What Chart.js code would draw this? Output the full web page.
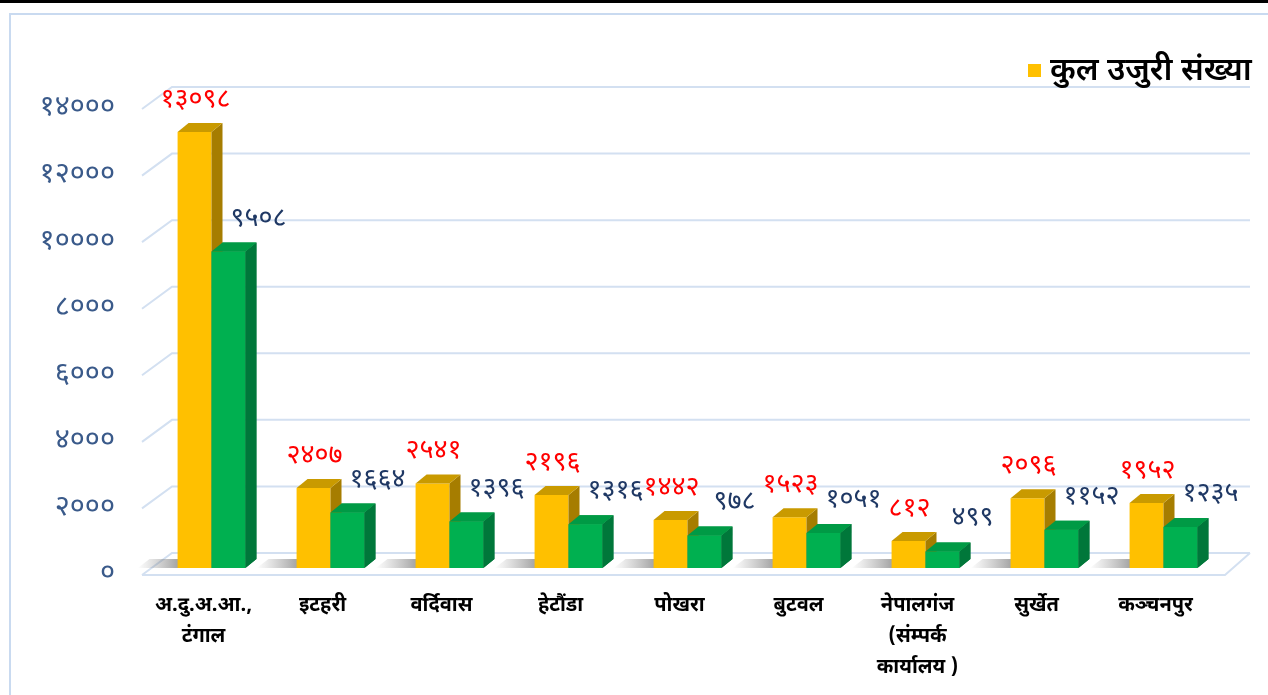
<!DOCTYPE html>
<html>
<head>
<meta charset="utf-8">
<script src="https://cdn.jsdelivr.net/npm/chart.js@4.4.1/dist/chart.umd.min.js"></script>
<style>
  html, body { margin: 0; padding: 0; background: #fff; }
  #wrap { width: 1268px; height: 695px; position: relative; }
</style>
</head>
<body>
<div id="wrap"><canvas id="chart" width="1268" height="695"></canvas></div>
<script>
// === data ===
const offices = [
  ['अ.दु.अ.आ.,', 'टंगाल'],
  'इटहरी',
  'वर्दिवास',
  'हेटौंडा',
  'पोखरा',
  'बुटवल',
  ['नेपालगंज', '(संम्पर्क', 'कार्यालय )'],
  'सुर्खेत',
  'कञ्चनपुर'
];
const totalComplaints = [13098, 2407, 2541, 2196, 1442, 1523, 812, 2096, 1952];
const secondSeries = [9508, 1664, 1396, 1316, 978, 1051, 499, 1152, 1235];
const yTicks = [0, 2000, 4000, 6000, 8000, 10000, 12000, 14000];
const legendLabel = 'कुल उजुरी संख्या';

// helpers
const devaDigits = '०१२३४५६७८९';
const toDeva = (n) => String(n).replace(/\d/g, d => devaDigits[d]);
const DEVA_FONT = "'Noto Sans Devanagari', 'Noto Serif Devanagari', 'Lohit Devanagari', 'Noto Sans', sans-serif";

const DX = 11, DY = 9; // bar depth

const shade = {
  yellow: { front: '#FFC000', side: '#A67D00', top: '#C99A00' },
  green:  { front: '#00B050', side: '#00773A', top: '#009A45' }
};

const drawFaces = (ctx, bar, c) => {
  const x0 = bar.x - bar.width / 2, x1 = bar.x + bar.width / 2;
  const yt = bar.y, yb = bar.base;
  ctx.fillStyle = c.side;
  ctx.beginPath();
  ctx.moveTo(x1, yt);
  ctx.lineTo(x1 + DX, yt - DY);
  ctx.lineTo(x1 + DX, yb - DY);
  ctx.lineTo(x1, yb);
  ctx.closePath();
  ctx.fill();
  ctx.fillStyle = c.top;
  ctx.beginPath();
  ctx.moveTo(x0, yt);
  ctx.lineTo(x1, yt);
  ctx.lineTo(x1 + DX, yt - DY);
  ctx.lineTo(x0 + DX, yt - DY);
  ctx.closePath();
  ctx.fill();
};

// ==============================
// 3D plugin
// ==============================
const threeD = {
  id: 'threeD',
  beforeDraw(chart) {
    const { ctx, chartArea } = chart;
    const y = chart.scales.y;
    ctx.save();
    // outer frame
    ctx.fillStyle = '#000';
    ctx.fillRect(0, 0, 1268, 3);
    ctx.strokeStyle = '#C9DAF0';
    ctx.lineWidth = 2;
    ctx.beginPath();
    ctx.moveTo(10, 695);
    ctx.lineTo(10, 14);
    ctx.lineTo(1268, 14);
    ctx.stroke();

    // back wall gridlines + diagonals
    ctx.strokeStyle = '#D3E0F1';
    ctx.lineWidth = 2;
    yTicks.forEach(v => {
      const py = y.getPixelForValue(v);
      ctx.beginPath();
      ctx.moveTo(chartArea.left - 10, py + 7);
      ctx.lineTo(chartArea.left + 20, py - 15);
      ctx.lineTo(1250, py - 15);
      ctx.stroke();
    });
    // floor front edge
    const p0 = y.getPixelForValue(0);
    ctx.beginPath();
    ctx.moveTo(chartArea.left - 10, p0 + 7);
    ctx.lineTo(1225, p0 + 7);
    ctx.lineTo(1250, p0 - 15);
    ctx.stroke();

    // soft shadows on the floor
    chart.getDatasetMeta(0).data.forEach(bar => {
      const x0 = bar.x - bar.width / 2;
      const g = ctx.createLinearGradient(x0 - 40, 0, x0 + 5, 0);
      g.addColorStop(0, 'rgba(130,130,130,0)');
      g.addColorStop(1, 'rgba(110,110,110,0.7)');
      ctx.fillStyle = g;
      ctx.beginPath();
      ctx.moveTo(x0 - 40, p0);
      ctx.lineTo(x0 + 5, p0);
      ctx.lineTo(x0 + 12, p0 - 9);
      ctx.lineTo(x0 - 28, p0 - 9);
      ctx.closePath();
      ctx.fill();
    });
    ctx.restore();
  },
  afterDatasetDraw(chart, args) {
    const { ctx } = chart;
    ctx.save();
    if (args.index === 1) {
      // green drawn first: add its faces
      args.meta.data.forEach(bar => drawFaces(ctx, bar, shade.green));
    } else {
      // yellow drawn last: add its faces, then bring green back on top
      args.meta.data.forEach(bar => drawFaces(ctx, bar, shade.yellow));
      chart.getDatasetMeta(1).data.forEach(bar => {
        bar.draw(ctx, chart.chartArea);
        drawFaces(ctx, bar, shade.green);
      });
    }
    ctx.restore();
  },
  afterDatasetsDraw(chart) {
    const { ctx } = chart;
    ctx.save();
    ctx.font = `27px ${DEVA_FONT}`;
    ctx.textAlign = 'center';
    ctx.textBaseline = 'middle';
    chart.getDatasetMeta(0).data.forEach((bar, i) => {
      ctx.fillStyle = '#FF0000';
      ctx.fillText(toDeva(totalComplaints[i]), bar.x + 1, bar.y - 30);
    });
    chart.getDatasetMeta(1).data.forEach((bar, i) => {
      ctx.fillStyle = '#1F3864';
      ctx.fillText(toDeva(secondSeries[i]), bar.x + 30, bar.y - 31);
    });

    // legend
    ctx.fillStyle = shade.yellow.front;
    ctx.fillRect(1028, 64, 13, 13);
    ctx.fillStyle = '#000';
    ctx.textAlign = 'left';
    ctx.font = `600 32px ${DEVA_FONT}`;
    ctx.fillText(legendLabel, 1050, 74);
    ctx.restore();
  }
};

new Chart(document.getElementById('chart'), {
  type: 'bar',
  data: {
    labels: offices,
    datasets: [
      { label: legendLabel, data: totalComplaints, backgroundColor: shade.yellow.front },
      { label: '', data: secondSeries, backgroundColor: shade.green.front }
    ]
  },
  options: {
    responsive: false,
    animation: false,
    layout: { padding: { top: 102, right: 45, bottom: 0, left: 0 } },
    datasets: { bar: { categoryPercentage: 0.57, barPercentage: 1.0, borderWidth: 0 } },
    plugins: { legend: { display: false }, tooltip: { enabled: false } },
    scales: {
      x: {
        grid: { display: false, drawTicks: false },
        border: { display: false },
        ticks: {
          color: '#000',
          font: { family: DEVA_FONT, size: 20, weight: 'bold', lineHeight: 1.55 },
          padding: 24,
          labelOffset: -8,
          maxRotation: 0,
          autoSkip: false
        },
        afterFit: (s) => { s.height = 127; }
      },
      y: {
        min: 0,
        max: 14000,
        grid: { display: false, drawTicks: false },
        border: { display: false },
        afterBuildTicks: (s) => { s.ticks = yTicks.map(v => ({ value: v })); },
        ticks: {
          color: '#3A5A8A',
          font: { family: DEVA_FONT, size: 29 },
          padding: 37,
          labelOffset: 8,
          callback: (v) => toDeva(v)
        },
        afterFit: (s) => { s.width = 152; }
      }
    }
  },
  plugins: [threeD]
});
</script>
</body>
</html>
